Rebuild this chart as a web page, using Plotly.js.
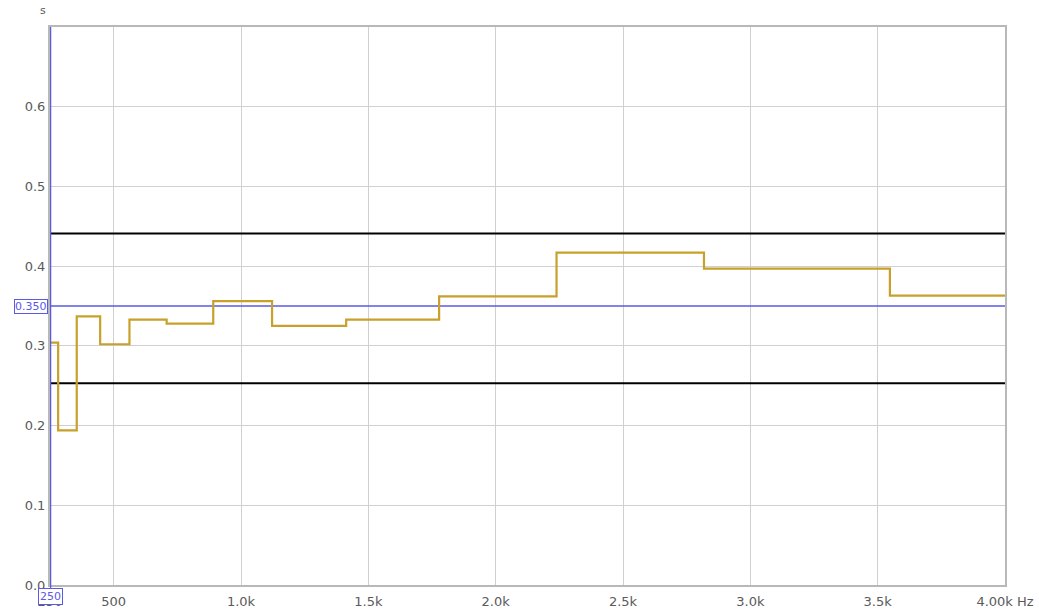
<!DOCTYPE html>
<html>
<head>
<meta charset="utf-8">
<script src="https://cdn.plot.ly/plotly-3.0.1.min.js"></script>
<style>html,body{margin:0;padding:0;background:#fff;}#chart{width:1039px;height:613px;}</style>
</head>
<body>
<div id="chart"></div>
<script>
// Band edges (Hz) of the step plot and the value held in each band (s)
const bandEdges = [250, 282, 355, 447, 562, 708, 891, 1122, 1413, 1778, 2239, 2818, 3548, 4000];
const bandValues = [0.304, 0.194, 0.337, 0.302, 0.333, 0.328, 0.356, 0.325, 0.333, 0.362, 0.417, 0.397, 0.363];
// Reference lines
const upperLimit = 0.441;
const lowerLimit = 0.253;
const targetValue = 0.350;
const markerFreq = 250;
// Tick labels
const xTickVals = [250, 500, 1000, 1500, 2000, 2500, 3000, 3500, 4000];
const xTickText = ['250', '500', '1.0k', '1.5k', '2.0k', '2.5k', '3.0k', '3.5k', '4.00k Hz'];
const yTickVals = [0, 0.1, 0.2, 0.3, 0.4, 0.5, 0.6];
const yTickText = ['0.0', '0.1', '0.2', '0.3', '0.4', '0.5', '0.6'];

const stepY = bandValues.concat([bandValues[bandValues.length - 1]]);

const blue = '#5a5ae6';
const tickFont = {family: 'DejaVu Sans, sans-serif', size: 13, color: '#5a5a5a'};

const traces = [
  {x: [bandEdges[0], bandEdges[bandEdges.length-1]], y: [upperLimit, upperLimit], mode: 'lines',
   line: {color: '#000', width: 2}, hoverinfo: 'skip'},
  {x: [bandEdges[0], bandEdges[bandEdges.length-1]], y: [lowerLimit, lowerLimit], mode: 'lines',
   line: {color: '#000', width: 2}, hoverinfo: 'skip'},
  {x: [bandEdges[0], bandEdges[bandEdges.length-1]], y: [targetValue, targetValue], mode: 'lines',
   line: {color: blue, width: 1.3}, hoverinfo: 'skip'},
  {x: bandEdges, y: stepY, mode: 'lines', line: {shape: 'hv', color: '#c8a02a', width: 2.2}}
];

const layout = {
  width: 1039, height: 613,
  margin: {l: 50, r: 34, t: 27, b: 28},
  paper_bgcolor: '#fff', plot_bgcolor: '#fff',
  showlegend: false,
  xaxis: {
    type: 'linear', range: [250, 4000], tickvals: xTickVals, ticktext: xTickText,
    showgrid: true, gridcolor: '#d0d0d0', gridwidth: 1, zeroline: false,
    showline: true, mirror: true, linecolor: '#b8b8b8', linewidth: 2,
    ticks: '', tickfont: tickFont, ticklabelstandoff: 3
  },
  yaxis: {
    range: [0, 0.7], tickvals: yTickVals, ticktext: yTickText,
    showgrid: true, gridcolor: '#d0d0d0', gridwidth: 1, zeroline: false,
    showline: true, mirror: true, linecolor: '#b8b8b8', linewidth: 2,
    ticks: '', tickfont: tickFont, ticklabelstandoff: 0
  },
  shapes: [
    {type: 'line', xref: 'x', yref: 'paper', x0: markerFreq, x1: markerFreq, y0: -0.01, y1: 1,
     line: {color: blue, width: 2.5}}
  ],
  annotations: [
    {xref: 'paper', yref: 'paper', x: -0.002, y: 1.015, xanchor: 'right', yanchor: 'bottom',
     text: 's', showarrow: false, font: {family: 'DejaVu Sans, sans-serif', size: 11, color: '#5a5a5a'}},
    {xref: 'paper', yref: 'y', x: -0.002, y: targetValue, xanchor: 'right', yanchor: 'middle',
     text: '0.350', showarrow: false, bgcolor: '#fff', bordercolor: blue, borderwidth: 1, borderpad: 0,
     font: {family: 'DejaVu Sans, sans-serif', size: 11, color: blue}},
    {xref: 'x', yref: 'paper', x: markerFreq, y: -0.006, xanchor: 'center', yanchor: 'top',
     text: '250', showarrow: false, bgcolor: '#fff', bordercolor: blue, borderwidth: 1, borderpad: 1,
     font: {family: 'DejaVu Sans, sans-serif', size: 11, color: blue}}
  ]
};

Plotly.newPlot('chart', traces, layout, {displayModeBar: false, staticPlot: true});
</script>
</body>
</html>
